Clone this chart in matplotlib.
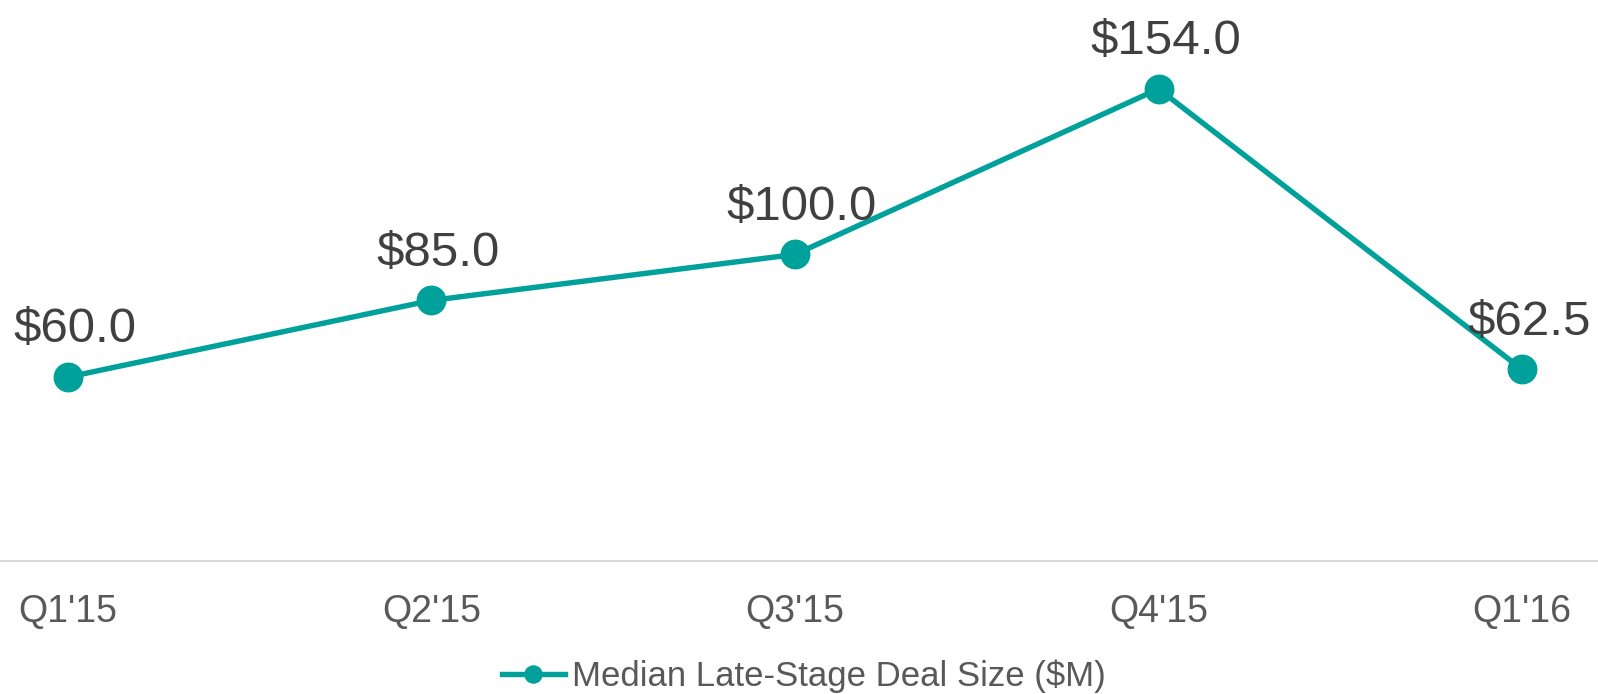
import matplotlib.pyplot as plt

plt.rcParams['font.family'] = ['Liberation Sans', 'DejaVu Sans']

quarters = ["Q1'15", "Q2'15", "Q3'15", "Q4'15", "Q1'16"]
deal_size = [60.0, 85.0, 100.0, 154.0, 62.5]

teal = '#00A19B'

fig = plt.figure(figsize=(15.98, 6.94), dpi=100)
ax = fig.add_axes([0, 1 - 561 / 694, 1, 561 / 694])

x = list(range(len(quarters)))
line, = ax.plot(x, deal_size, color=teal, linewidth=3.9, marker='o',
                markersize=20.5, label='Median Late-Stage Deal Size ($M)')

# value labels above each point
for xi, v in zip(x, deal_size):
    ax.annotate(f'${v:.1f}', (xi, v), xytext=(5, 25), textcoords='offset points',
                ha='center', va='baseline', fontsize=35.5, color='#404040',
                annotation_clip=False)

ax.set_xlim(-0.187, 4.209)
ax.set_ylim(0, 183)
ax.set_xticks(x)
ax.set_xticklabels(quarters, fontsize=27, color='#595959')
ax.tick_params(axis='x', length=0, pad=24)
ax.set_yticks([])
for side in ['top', 'left', 'right']:
    ax.spines[side].set_visible(False)
ax.spines['bottom'].set_color('#d9d9d9')
ax.spines['bottom'].set_linewidth(1.5)

leg = fig.legend(handles=[line], loc='center', bbox_to_anchor=(0.503, 1 - 676 / 694),
                 frameon=False, fontsize=25, handlelength=1.8, handletextpad=0.2,
                 markerscale=0.6, borderpad=0)
for t in leg.get_texts():
    t.set_color('#595959')

fig.savefig('out.png', dpi=100)
